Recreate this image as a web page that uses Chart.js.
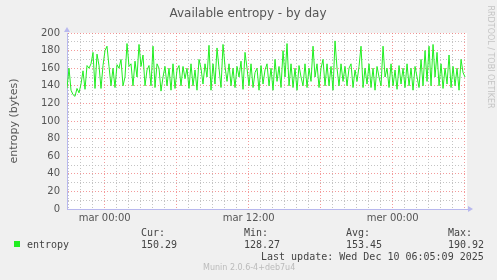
<!DOCTYPE html>
<html>
<head>
<meta charset="utf-8">
<script src="https://cdn.jsdelivr.net/npm/chart.js@4/dist/chart.umd.min.js"></script>
<style>
  html, body { margin: 0; padding: 0; background: #f0f0f0; }
  #wrap { position: relative; width: 497px; height: 280px; overflow: hidden; }
  #chart { position: absolute; left: 0; top: 0; }
  .mono { position: absolute; font-family: 'DejaVu Sans Mono', monospace; font-size: 10px; color: #444; white-space: pre; line-height: 12px; }
  #swatch { position: absolute; left: 14px; top: 241px; width: 6px; height: 6px; background: #22ee22; }
  #munin { position: absolute; left: 203px; top: 263px; font-family: 'DejaVu Sans', sans-serif; font-size: 8px; color: #bbb; }
</style>
</head>
<body>
<div id="wrap">
  <canvas id="chart" width="497" height="280"></canvas>
  <div id="swatch"></div>
  <div class="mono" style="left:27px;top:239px;">entropy</div>
  <div class="mono" style="left:141px;top:227px;">Cur:</div>
  <div class="mono" style="left:244px;top:227px;">Min:</div>
  <div class="mono" style="left:346px;top:227px;">Avg:</div>
  <div class="mono" style="left:448px;top:227px;">Max:</div>
  <div class="mono" style="left:141px;top:239px;">150.29</div>
  <div class="mono" style="left:244px;top:239px;">128.27</div>
  <div class="mono" style="left:346px;top:239px;">153.45</div>
  <div class="mono" style="left:448px;top:239px;">190.92</div>
  <div class="mono" style="left:261px;top:251px;">Last update: Wed Dec 10 06:05:09 2025</div>
  <div id="munin">Munin 2.0.6-4+deb7u4</div>
</div>
<script>
// time axis in hours relative to "mar 00:00"
const START_HOUR = -3.14;
const END_HOUR = 30.19;
const STEP_HOUR = 1 / 6; // one sample every 10 minutes

const dayLabels = { 0: 'mar 00:00', 12: 'mar 12:00', 24: 'mer 00:00' };
const yTicks = [0, 20, 40, 60, 80, 100, 120, 140, 160, 180, 200];

// entropy (bytes)
const entropy = [
  137, 160, 135, 130, 128, 137, 132, 142, 157, 136,
  163, 160, 165, 178, 137, 176, 163, 137, 163, 180,
  185, 162, 140, 160, 138, 164, 160, 170, 140, 150,
  188, 162, 165, 140, 168, 150, 187, 162, 175, 140,
  158, 163, 140, 185, 138, 165, 160, 134, 150, 162,
  140, 160, 135, 165, 137, 158, 163, 140, 162, 148,
  160, 137, 165, 140, 158, 135, 170, 160, 142, 165,
  150, 186, 135, 165, 142, 183, 160, 138, 187, 162,
  145, 165, 140, 160, 138, 162, 150, 168, 136, 178,
  160, 140, 165, 138, 155, 160, 135, 163, 142, 158,
  165, 140, 160, 135, 170, 145, 162, 138, 180, 150,
  188, 140, 165, 138, 160, 135, 163, 150, 140, 165,
  138, 160, 145, 185, 150, 165, 138, 160, 170, 140,
  165, 140, 162, 135, 191, 160, 140, 165, 145, 162,
  140, 160, 165, 138, 158, 145, 162, 185, 138, 160,
  142, 165, 138, 160, 135, 162, 150, 140, 185, 150,
  160, 138, 165, 140, 158, 136, 163, 142, 160, 138,
  165, 140, 160, 135, 162, 150, 138, 170, 140, 180,
  145, 185, 140, 187, 150, 178, 140, 165, 137, 160,
  142, 175, 138, 162, 140, 160, 135, 170, 155, 150
];

const points = entropy.map((v, i) => ({ x: START_HOUR + i * STEP_HOUR, y: v }));

const hourTicks = [];
for (let h = -3; h <= 30; h++) hourTicks.push(h);

const RED = 'rgba(240,120,120,0.75)';
const GREY = 'rgba(190,190,190,0.9)';
const AXIS = '#b8b8ee';

const extras = {
  id: 'extras',
  afterDraw(chart) {
    const ctx = chart.ctx;
    const a = chart.chartArea;
    ctx.save();
    // title
    ctx.fillStyle = '#555';
    ctx.font = '12px "DejaVu Sans"';
    ctx.textAlign = 'center';
    ctx.textBaseline = 'middle';
    ctx.fillText('Available entropy - by day', 248, 14);
    // y title
    ctx.save();
    ctx.translate(14, 121);
    ctx.rotate(-Math.PI / 2);
    ctx.font = '11px "DejaVu Sans"';
    ctx.fillText('entropy (bytes)', 0, 0);
    ctx.restore();
    // side text
    ctx.save();
    ctx.translate(490, 57);
    ctx.rotate(Math.PI / 2);
    ctx.fillStyle = '#c4c4c4';
    ctx.font = '8px "DejaVu Sans"';
    ctx.fillText('RRDTOOL / TOBI OETIKER', 0, 0);
    ctx.restore();
    // axis arrows
    ctx.fillStyle = AXIS;
    ctx.beginPath();
    ctx.moveTo(a.right + 6, a.bottom);
    ctx.lineTo(a.right + 1, a.bottom - 3);
    ctx.lineTo(a.right + 1, a.bottom + 3);
    ctx.fill();
    ctx.beginPath();
    ctx.moveTo(a.left, a.top - 6);
    ctx.lineTo(a.left - 3, a.top - 1);
    ctx.lineTo(a.left + 3, a.top - 1);
    ctx.fill();
    ctx.restore();
  }
};

const bgPlugin = {
  id: 'bg',
  beforeDraw(chart) {
    const a = chart.chartArea;
    chart.ctx.save();
    chart.ctx.fillStyle = '#ffffff';
    chart.ctx.fillRect(a.left, a.top, a.right - a.left, a.bottom - a.top);
    chart.ctx.restore();
  }
};

new Chart(document.getElementById('chart').getContext('2d'), {
  type: 'line',
  data: {
    datasets: [{
      data: points,
      borderColor: '#22ee22',
      borderWidth: 1,
      pointRadius: 0,
      tension: 0,
      fill: false
    }]
  },
  options: {
    responsive: false,
    animation: false,
    layout: { padding: { top: 33, right: 30, bottom: 51, left: 0 } },
    plugins: { legend: { display: false }, tooltip: { enabled: false }, title: { display: false } },
    scales: {
      x: {
        type: 'linear',
        min: START_HOUR,
        max: END_HOUR,
        afterFit(s) { s.height = 20; },
        afterBuildTicks(s) { s.ticks = hourTicks.map(v => ({ value: v })); },
        ticks: {
          autoSkip: false,
          maxRotation: 0,
          padding: 3,
          color: '#555',
          font: { family: 'DejaVu Sans', size: 10 },
          callback: v => dayLabels[v] || ''
        },
        grid: {
          drawTicks: false,
          color: c => (c.tick && c.tick.value % 6 === 0) ? RED : GREY,
          lineWidth: 1
        },
        border: { display: true, color: AXIS, dash: [1, 2] }
      },
      y: {
        min: 0,
        max: 200,
        afterFit(s) { s.width = 67; },
        afterBuildTicks(s) {
          const t = [];
          for (let v = 0; v <= 200; v += 10) t.push({ value: v });
          s.ticks = t;
        },
        ticks: {
          autoSkip: false,
          padding: 7,
          color: '#555',
          font: { family: 'DejaVu Sans', size: 10 },
          callback: v => yTicks.includes(v) ? String(v) : ''
        },
        grid: {
          drawTicks: false,
          color: c => (c.tick && c.tick.value % 20 === 0) ? RED : GREY,
          lineWidth: 1
        },
        border: { display: true, color: AXIS, dash: [1, 2] }
      }
    }
  },
  plugins: [bgPlugin, extras]
});
</script>
</body>
</html>
